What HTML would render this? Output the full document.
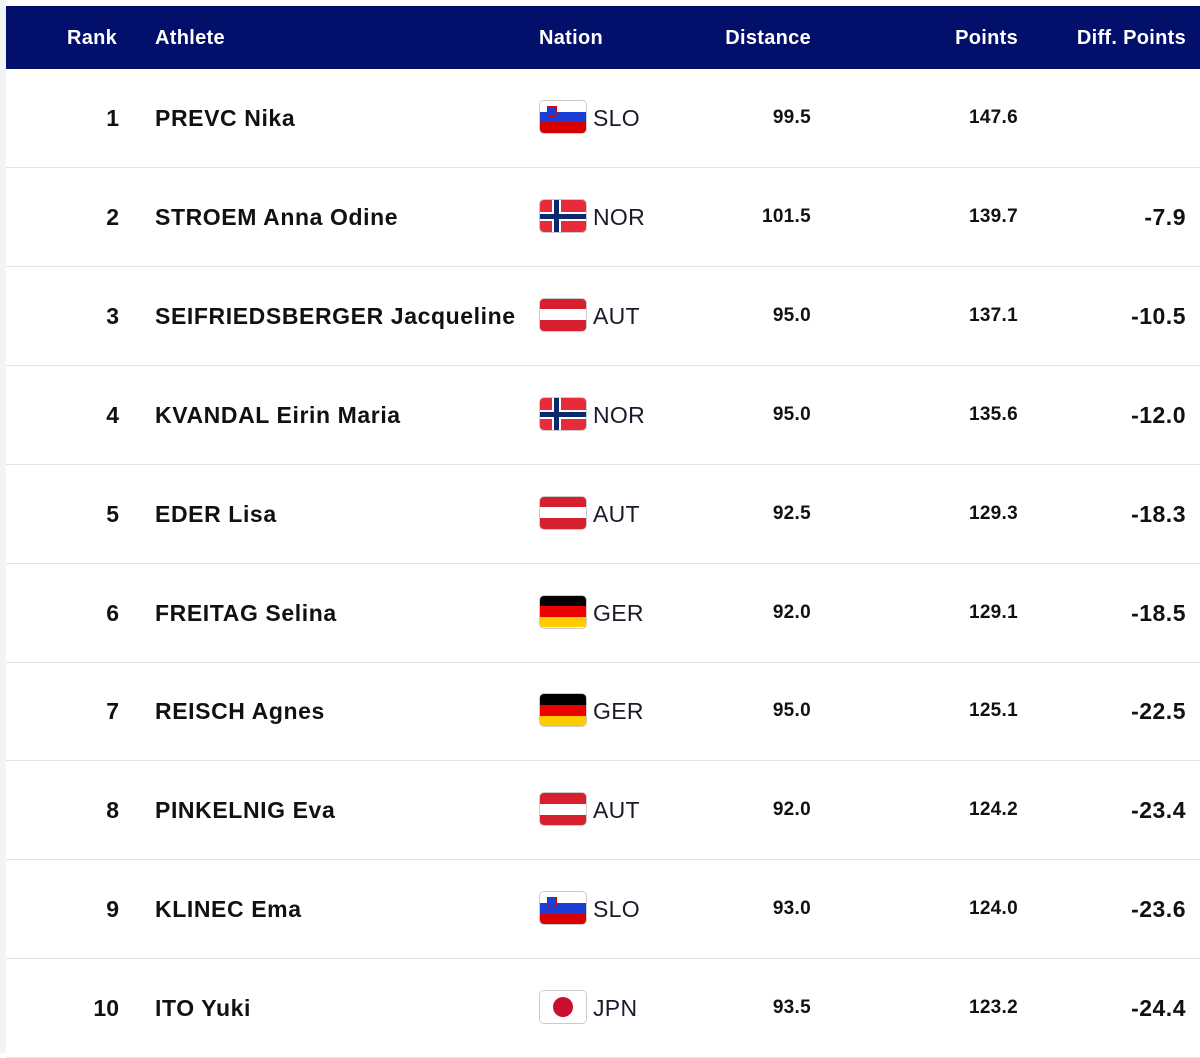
<!DOCTYPE html>
<html><head><meta charset="utf-8"><style>
body{margin:0;width:1200px;height:1053px;background:#fff;overflow:hidden;font-family:"Liberation Sans",Arial,sans-serif;position:relative}
.lm{position:absolute;left:0;top:0;width:6px;height:1053px;background:#f3f4f8}
.top{position:absolute;left:0;top:0;width:1200px;height:6px;background:#fff}
.hdr{position:absolute;left:6px;top:6px;width:1194px;height:63px;background:#020f6b;color:#fff;font-weight:bold;font-size:20px;letter-spacing:0.3px}
.hdr span{position:absolute;top:21px}
.row{position:absolute;left:6px;width:1194px;height:98px;border-bottom:1px solid #e4e4e8;color:#111}
.row span{position:absolute;top:36px;line-height:26px}
.r{font-weight:bold;font-size:23px;right:1081px;text-align:right}
.n{font-weight:bold;font-size:23px;left:149px;letter-spacing:0.6px}
.c{font-size:23px;left:587px;color:#1a1a2a;letter-spacing:0.3px}
.d{font-weight:bold;font-size:19px;right:389px;letter-spacing:0.3px}
.p{font-weight:bold;font-size:19px;right:182px;letter-spacing:0.3px}
.f{font-weight:bold;font-size:23px;right:14px;letter-spacing:0.5px}
.flag{position:absolute;left:534px;top:32px;width:46px;height:32px;border-radius:4px;overflow:hidden;box-shadow:0 0 0 1px #ccc}
</style></head><body>
<div class="top"></div><div class="lm"></div>
<div class="hdr"><span style="left:61px">Rank</span><span style="left:149px">Athlete</span><span style="left:533px">Nation</span><span style="right:389px">Distance</span><span style="right:182px">Points</span><span style="right:14px">Diff. Points</span></div>
<div id="rows"></div>
<script>
const data=[["1","PREVC Nika","SLO","99.5","147.6",""],["2","STROEM Anna Odine","NOR","101.5","139.7","-7.9"],["3","SEIFRIEDSBERGER Jacqueline","AUT","95.0","137.1","-10.5"],["4","KVANDAL Eirin Maria","NOR","95.0","135.6","-12.0"],["5","EDER Lisa","AUT","92.5","129.3","-18.3"],["6","FREITAG Selina","GER","92.0","129.1","-18.5"],["7","REISCH Agnes","GER","95.0","125.1","-22.5"],["8","PINKELNIG Eva","AUT","92.0","124.2","-23.4"],["9","KLINEC Ema","SLO","93.0","124.0","-23.6"],["10","ITO Yuki","JPN","93.5","123.2","-24.4"]];
const flags={
SLO:'<div style="height:33%;background:#fff"></div><div style="height:34%;background:#1b3fd6"></div><div style="height:33%;background:#d60000"></div><div style="position:absolute;left:7px;top:5px;width:8px;height:9px;background:#1b3fd6;border-radius:0 0 4px 4px;border:1px solid #d00"></div>',
NOR:'<div style="position:absolute;inset:0;background:#e82b3a"></div><div style="position:absolute;left:12px;top:0;width:9px;height:32px;background:#fff"></div><div style="position:absolute;left:0;top:12px;width:46px;height:9px;background:#fff"></div><div style="position:absolute;left:14px;top:0;width:5px;height:32px;background:#0c2a6b"></div><div style="position:absolute;left:0;top:14px;width:46px;height:5px;background:#0c2a6b"></div>',
AUT:'<div style="height:33%;background:#d6202f"></div><div style="height:34%;background:#fff"></div><div style="height:33%;background:#d6202f"></div>',
GER:'<div style="height:33%;background:#000"></div><div style="height:34%;background:#e00"></div><div style="height:33%;background:#fc0"></div>',
JPN:'<div style="position:absolute;inset:0;background:#fff"></div><div style="position:absolute;left:13px;top:6px;width:20px;height:20px;border-radius:50%;background:#c8102e"></div>'};
let h='';data.forEach((d,i)=>{const t=69+i*98.9;h+=`<div class="row" style="top:${t}px"><span class="r">${d[0]}</span><span class="n">${d[1]}</span><div class="flag">${flags[d[2]]}</div><span class="c">${d[2]}</span><span class="d">${d[3]}</span><span class="p">${d[4]}</span><span class="f">${d[5]}</span></div>`});
document.getElementById('rows').innerHTML=h;
</script>
</body></html>
